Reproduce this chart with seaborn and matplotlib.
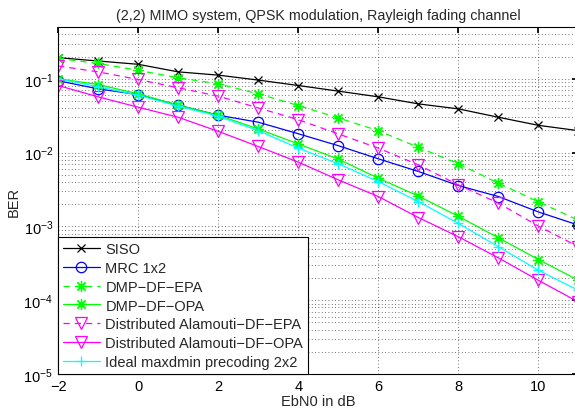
import numpy as np
import pandas as pd
import matplotlib
matplotlib.use("Agg")
import matplotlib.pyplot as plt
import seaborn as sns

# Eb/N0 points in dB
ebn0 = [-2, -1, 0, 1, 2, 3, 4, 5, 6, 7, 8, 9, 10, 11]

# BER values
siso = [0.193, 0.174, 0.157, 0.124, 0.112, 0.096, 0.081, 0.068, 0.0569, 0.0457,
        0.0391, 0.0301, 0.0234, 0.0198]
mrc = [0.094, 0.073, 0.061, 0.0439, 0.0321, 0.0258, 0.0180, 0.0124, 0.00824,
       0.00555, 0.00358, 0.00254, 0.00157, 0.00104]
dmp_epa = [0.189, 0.161, 0.130, 0.103, 0.0855, 0.0625, 0.0434, 0.0295, 0.0198,
           0.0118, 0.00705, 0.00385, 0.00215, 0.00121]
dmp_opa = [0.100, 0.0836, 0.0625, 0.0439, 0.0321, 0.0209, 0.0131, 0.00817,
           0.00450, 0.00258, 0.00137, 0.000702, 0.000356, 0.000186]
ala_epa = [0.149, 0.124, 0.0978, 0.0755, 0.0582, 0.0403, 0.0279, 0.0179, 0.0115,
           0.00682, 0.00365, 0.00207, 0.00101, 0.00053]
ala_opa = [0.081, 0.0569, 0.0412, 0.0301, 0.0194, 0.0121, 0.00743, 0.00427,
           0.00254, 0.00132, 0.000724, 0.000375, 0.000186, 0.0000946]
maxdmin = [0.100, 0.0779, 0.0600, 0.0425, 0.0311, 0.0198, 0.0115, 0.00705,
           0.00405, 0.00217, 0.0011, 0.00053, 0.000255, 0.000136]

star = (8, 2, 0)  # asterisk like MATLAB '*'
series = [
    ("SISO", siso, "#000000", "x", "-", 6, "#000000"),
    ("MRC 1x2", mrc, "#0000ff", "o", "-", 7.5, "none"),
    ("DMP\u2212DF\u2212EPA", dmp_epa, "#00ff00", star, (0, (5, 4)), 8, "#00ff00"),
    ("DMP\u2212DF\u2212OPA", dmp_opa, "#00ff00", star, "-", 8, "#00ff00"),
    ("Distributed Alamouti\u2212DF\u2212EPA", ala_epa, "#ff00ff", "v", (0, (5, 4)), 8.5, "none"),
    ("Distributed Alamouti\u2212DF\u2212OPA", ala_opa, "#ff00ff", "v", "-", 8.5, "none"),
    ("Ideal maxdmin precoding 2x2", maxdmin, "#00ffff", "+", "-", 7, "#00ffff"),
]

sns.set_theme(style="white")
plt.rcParams['font.family'] = ['Liberation Sans', 'DejaVu Sans']
plt.rcParams['axes.unicode_minus'] = True

fig = plt.figure(figsize=(5.75, 4.14), dpi=100)
ax = fig.add_axes([0.101, 0.094, 0.905, 0.838])

for name, vals, col, mk, ls, ms, mfc in series:
    df = pd.DataFrame({'ebn0': ebn0, 'ber': vals})
    sns.lineplot(data=df, x='ebn0', y='ber', ax=ax, color=col, marker=mk,
                 linestyle=ls, linewidth=0.9, markersize=ms, markerfacecolor=mfc,
                 markeredgecolor=col, markeredgewidth=0.9, label=name)

ax.set_yscale('log')
ax.set_xlim(-2, 11)
ax.set_ylim(1e-5, 0.5)
ax.set_xticks([-2, 0, 2, 4, 6, 8, 10])
ax.set_yticks([1e-5, 1e-4, 1e-3, 1e-2, 1e-1])

ax.grid(True, which='major', linestyle=(0, (1, 3)), color='#404040', linewidth=0.6)
ax.grid(True, which='minor', axis='y', linestyle=(0, (1, 3)), color='#404040',
        linewidth=0.6)
ax.grid(False, which='minor', axis='x')
ax.tick_params(which='both', direction='in', top=True, right=True, labelsize=10.5,
               colors='black')
ax.tick_params(which='major', length=4)
ax.tick_params(which='minor', length=2)
for s in ax.spines.values():
    s.set_color('black')
    s.set_linewidth(0.8)

ax.set_title("(2,2) MIMO system, QPSK modulation, Rayleigh fading channel",
             fontsize=10.3, pad=6)
ax.set_xlabel("EbN0 in dB", fontsize=10.5, labelpad=1)
ax.set_ylabel("BER", fontsize=10.5, labelpad=2)

leg = ax.legend(loc='lower left', fontsize=10.5, frameon=True, fancybox=False,
                borderaxespad=0, handlelength=2.5, labelspacing=0.33,
                borderpad=0.35, handletextpad=0.4)
leg.get_frame().set_edgecolor('black')
leg.get_frame().set_linewidth(0.8)
leg.get_frame().set_alpha(1)

fig.savefig("out.png", dpi=100)
